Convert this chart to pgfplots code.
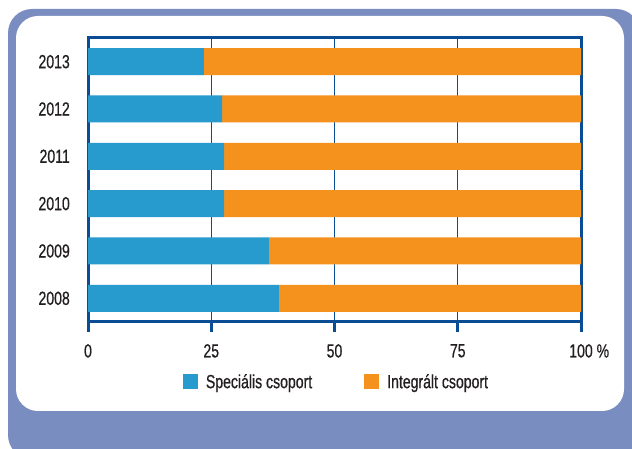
\documentclass[border=0pt]{standalone}
\usepackage{pgfplots}
\pgfplotsset{compat=1.18}
\usepackage{fontspec}
\setmainfont[FakeStretch=0.74, FakeBold=0.6]{Liberation Sans}
\definecolor{barblue}{RGB}{39,155,206}
\definecolor{barorange}{RGB}{245,146,30}
\definecolor{framebg}{RGB}{122,141,192}
\definecolor{axisblue}{RGB}{10,77,148}
\definecolor{txt}{RGB}{35,31,32}
\begin{document}
\begin{tikzpicture}
\useasboundingbox (0pt,0pt) rectangle (632pt,449pt);
\fill[framebg, rounded corners=24pt] (8pt,-10pt) rectangle (640pt,440pt);
\fill[white, rounded corners=22pt] (16pt,38pt) rectangle (624pt,433pt);
\begin{axis}[
  at={(88pt,127pt)}, anchor=south west,
  scale only axis, width=493pt, height=284pt,
  xbar stacked, bar width=27pt,
  xmin=0, xmax=100, ymin=-0.5, ymax=5.5,
  xtick={0,25,50,75,100},
  xticklabels={0,25,50,75,100\rlap{ \%}},
  ytick={0,1,2,3,4,5},
  yticklabels={2008,2009,2010,2011,2012,2013},
  font=\fontsize{19}{22}\selectfont,
  /pgf/number format/assume math mode=true,
  tick label style={text=txt},
  tick align=outside,
  xtick pos=bottom,
  major tick length=10pt,
  xtick style={axisblue, line width=3pt},
  ytick style={draw=none},
  axis line style={axisblue, line width=3pt},
  xmajorgrids,
  major grid style={axisblue, line width=1.3pt},
  yticklabel style={anchor=east, inner sep=0pt, xshift=-8pt},
  xticklabel style={anchor=north, inner sep=0pt, yshift=-12pt},
  legend columns=2,
  legend style={at={(0.502,-0.211)}, anchor=center, draw=none, fill=none,
    font=\fontsize{19}{22}\selectfont, text=txt,
    nodes={inner sep=0pt, anchor=west},
    /tikz/every odd column/.append style={column sep=8pt},
    /tikz/every even column/.append style={column sep=52pt}},
  legend image code/.code={\fill[#1] (0pt,-7.5pt) rectangle (15pt,7.5pt);},
]
\addplot[fill=barblue, draw=none] coordinates {(38.7,0) (36.7,1) (27.6,2) (27.6,3) (27.2,4) (23.5,5)};
\addlegendentry{Speciális csoport}
\addplot[fill=barorange, draw=none] coordinates {(61.3,0) (63.3,1) (72.4,2) (72.4,3) (72.8,4) (76.5,5)};
\addlegendentry{Integrált csoport}
\end{axis}
\end{tikzpicture}
\end{document}
